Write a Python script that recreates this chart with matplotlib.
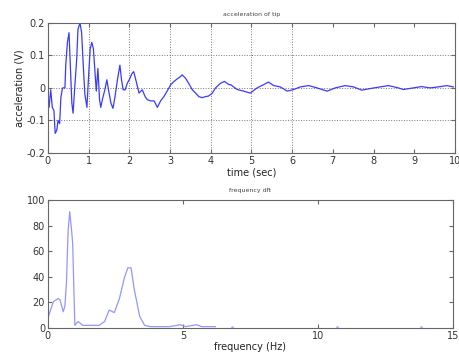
import numpy as np
import matplotlib
matplotlib.use('Agg')
from matplotlib import pyplot as plt

# time signal (sec, V)
t = [0.0, 0.03, 0.07, 0.11, 0.15, 0.18, 0.22, 0.25, 0.29, 0.32, 0.36, 0.42, 0.44, 0.48, 0.52,
     0.56, 0.59, 0.62, 0.66, 0.71, 0.74, 0.79, 0.83, 0.87, 0.91, 0.96, 1.0, 1.04, 1.08, 1.12,
     1.16, 1.19, 1.23, 1.27, 1.3, 1.34, 1.4, 1.45, 1.49, 1.55, 1.6, 1.65, 1.71, 1.77, 1.81,
     1.85, 1.9, 1.95, 2.0, 2.07, 2.11, 2.17, 2.24, 2.32, 2.39, 2.44, 2.52, 2.61, 2.69, 2.77,
     2.85, 2.93, 3.02, 3.1, 3.18, 3.26, 3.3, 3.38, 3.46, 3.55, 3.63, 3.71, 3.79, 3.87, 3.95,
     4.04, 4.12, 4.24, 4.34, 4.45, 4.49, 4.65, 4.81, 4.97, 5.14, 5.3, 5.42, 5.55, 5.71, 5.88,
     6.04, 6.2, 6.41, 6.61, 6.86, 7.06, 7.3, 7.51, 7.71, 7.92, 8.16, 8.37, 8.61, 8.73, 8.98,
     9.18, 9.39, 9.59, 9.8, 9.96]
acc = [-0.027, -0.06, -0.006, -0.06, -0.07, -0.14, -0.13, -0.10, -0.11, -0.03, 0.0, 0.0, 0.07, 0.14, 0.17,
       0.045, -0.047, -0.078, 0.0, 0.09, 0.18, 0.2, 0.17, 0.07, -0.02, -0.06, 0.035, 0.12, 0.14, 0.12,
       0.045, -0.01, 0.06, -0.036, -0.06, -0.036, -0.006, 0.025, -0.006, -0.047, -0.063, -0.027, 0.025, 0.07, 0.025,
       -0.006, -0.006, 0.014, 0.025, 0.045, 0.05, 0.02, -0.016, -0.006, -0.027, -0.036, -0.04, -0.04, -0.06, -0.04,
       -0.027, -0.01, 0.01, 0.02, 0.028, 0.035, 0.04, 0.03, 0.014, -0.006, -0.016, -0.027, -0.03, -0.027, -0.025,
       -0.016, 0.0, 0.014, 0.02, 0.01, 0.01, -0.005, -0.01, -0.016, 0.0, 0.01, 0.018, 0.007, 0.003, -0.01,
       -0.005, 0.003, 0.007, 0.0, -0.01, 0.0, 0.007, 0.003, -0.007, -0.002, 0.003, 0.007, 0.0, -0.005, 0.0,
       0.004, 0.0, 0.003, 0.007, 0.003]

# spectrum (Hz, magnitude)
freq = [0.0, 0.2, 0.38, 0.45, 0.57, 0.63, 0.69, 0.75, 0.81, 0.88, 0.92, 0.96, 1.0, 1.12, 1.3,
        1.9, 2.1, 2.27, 2.46, 2.65, 2.83, 2.96, 3.08, 3.2, 3.4, 3.58, 3.8, 4.5, 4.9, 5.1,
        5.5, 5.7, 6.2]
mag = [7.5, 20.5, 23, 22, 12.7, 17, 36, 76, 91, 76, 66, 33, 2, 5, 2,
       2, 5, 14, 12, 23, 39, 47, 47, 30, 9, 2, 1, 1, 2.5, 1,
       2.5, 1, 1]
# stray faint points further out
freq_dots = [6.8, 10.7, 13.8]
mag_dots = [1, 1, 1]

plt.rcParams['font.family'] = 'DejaVu Sans'
fig = plt.figure(figsize=(4.6, 3.58), dpi=100)

def matlab_box(ax):
    for s in ax.spines.values():
        s.set_color('#666666');
        s.set_linewidth(0.8);
    ax.tick_params(direction='in', top=True, right=True, labelsize=7, length=3,
                   color='#666666', labelcolor='#333333', pad=2);

ax1 = fig.add_axes([0.104, 0.573, 0.885, 0.363])
ax1.plot(t, acc, color='#3a3aff', lw=0.9)
ax1.set_xlim(0, 10)
ax1.set_ylim(-0.2, 0.2)
ax1.set_xticks(range(0, 11))
ax1.set_yticks([-0.2, -0.1, 0, 0.1, 0.2])
ax1.set_yticklabels(['-0.2', '-0.1', '0', '0.1', '0.2'])
ax1.grid(axis='y', linestyle=':', color='#777777', lw=0.7)
for xv in range(1, 7):
    ax1.axvline(xv, linestyle=':', color='#777777', lw=0.7, zorder=0);
matlab_box(ax1)
ax1.set_xlabel('time (sec)', fontsize=7, labelpad=1, color='#222222')
ax1.set_ylabel('acceleration (V)', fontsize=7, labelpad=1, color='#222222')
ax1.set_title('acceleration of tip', fontsize=4.5, pad=5, color='#444444')

ax2 = fig.add_axes([0.104, 0.084, 0.881, 0.357])
ax2.plot(freq, mag, color='#9595ff', lw=0.9)
ax2.plot(freq_dots, mag_dots, ls='none', marker='.', ms=2, color='#b0b0ff')
ax2.set_xlim(0, 15)
ax2.set_ylim(0, 100)
ax2.set_xticks([0, 5, 10, 15])
ax2.set_yticks(range(0, 101, 20))
matlab_box(ax2)
ax2.set_xlabel('frequency (Hz)', fontsize=7, labelpad=1, color='#222222')
ax2.set_title('frequency dft', fontsize=4.5, pad=6, color='#444444')

fig.savefig('out.png', dpi=100)
